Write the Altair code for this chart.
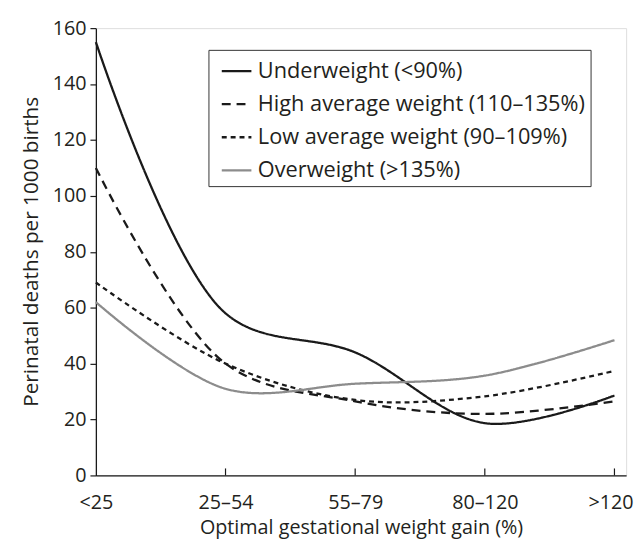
import altair as alt
import pandas as pd

categories = ["<25", "25–54", "55–79", "80–120", ">120"]
series_names = [
    "Underweight (<90%)",
    "High average weight (110–135%)",
    "Low average weight (90–109%)",
    "Overweight (>135%)",
]
underweight = [155, 58, 44, 18.7, 28.6]
high_average = [110, 40, 26.5, 22, 26.5]
low_average = [69, 40, 27, 28.3, 37.4]
overweight = [62, 31, 32.8, 35.7, 48.4]
y_ticks = [0, 20, 40, 60, 80, 100, 120, 140, 160]

series_colors = ["#1a1a1a", "#1a1a1a", "#1a1a1a", "#8c8c8c"]
series_dashes = [[1, 0], [9, 6], [5, 4], [1, 0]]

rows = []
for name, vals in zip(series_names, [underweight, high_average, low_average, overweight]):
    for i, (c, v) in enumerate(zip(categories, vals)):
        rows.append({"series": name, "idx": i, "category": c, "value": v})
df = pd.DataFrame(rows)

tick_df = pd.DataFrame({"idx": list(range(1, len(categories)))})

label_expr = "[" + ",".join("'" + c + "'" for c in categories) + "][datum.value]"

FONT = "Open Sans"
TXT = "#231f20"

x_scale = alt.Scale(domain=[0, 4.09], nice=False, zero=False)
y_scale = alt.Scale(domain=[0, 160], nice=False)

legend = alt.Legend(
    orient="none",
    legendX=114,
    legendY=22,
    strokeColor="#333333",
    padding=5,
    labelFont=FONT,
    labelFontSize=22,
    labelColor=TXT,
    labelOffset=5,
    rowPadding=5.5,
    symbolType="stroke",
    symbolSize=900,
    symbolOffset=7,
    symbolStrokeWidth=2.3,
    labelLimit=450,
)

lines = alt.Chart(df).mark_line(interpolate="catmull-rom", strokeWidth=2.3).encode(
    x=alt.X(
        "idx:Q",
        scale=x_scale,
        axis=alt.Axis(
            values=[0, 1, 2, 3, 4],
            labelExpr=label_expr,
            title="Optimal gestational weight gain (%)",
            titleFont=FONT,
            titleFontSize=20,
            titleFontWeight="normal",
            titleColor=TXT,
            titleY=59,
            titleBaseline="alphabetic",
            labelFont=FONT,
            labelFontSize=20,
            labelColor=TXT,
            labelPadding=17,
            labelOffset={"condition": {"test": "datum.value == 4", "value": -4}, "value": 0},
            tickSize=0,
            grid=False,
            domainColor="#1a1a1a",
            domainWidth=1.3,
            labelFlush=False,
        ),
    ),
    y=alt.Y(
        "value:Q",
        scale=y_scale,
        axis=alt.Axis(
            values=y_ticks,
            title="Perinatal deaths per 1000 births",
            titleFont=FONT,
            titleFontSize=21,
            titleFontWeight="normal",
            titleColor=TXT,
            titleX=-65,
            titleY=226,
            titleAlign="center",
            titleBaseline="middle",
            titleAngle=270,
            labelFont=FONT,
            labelFontSize=20,
            labelColor=TXT,
            labelPadding=4,
            tickSize=6,
            tickColor="#1a1a1a",
            tickWidth=1.2,
            grid=False,
            domainColor="#1a1a1a",
            domainWidth=1.3,
        ),
    ),
    color=alt.Color(
        "series:N",
        scale=alt.Scale(domain=series_names, range=series_colors),
        legend=legend,
        title=None,
    ),
    strokeDash=alt.StrokeDash(
        "series:N",
        scale=alt.Scale(domain=series_names, range=series_dashes),
        legend=legend,
        title=None,
    ),
)

ticks = alt.Chart(tick_df).mark_rule(color="#1a1a1a", strokeWidth=1.2).encode(
    x=alt.X("idx:Q", scale=x_scale),
    y=alt.datum(0),
    y2=alt.datum(2.5),
)

chart = (
    alt.layer(ticks, lines)
    .properties(
        width=537,
        height=453,
        autosize=alt.AutoSizeParams(type="none"),
        padding={"left": 89, "top": 17, "right": 10, "bottom": 62},
    )
    .configure_view(stroke=None)
    .configure(background="white")
)

chart.save("out.html", embed_options={"renderer": "svg", "actions": False})
